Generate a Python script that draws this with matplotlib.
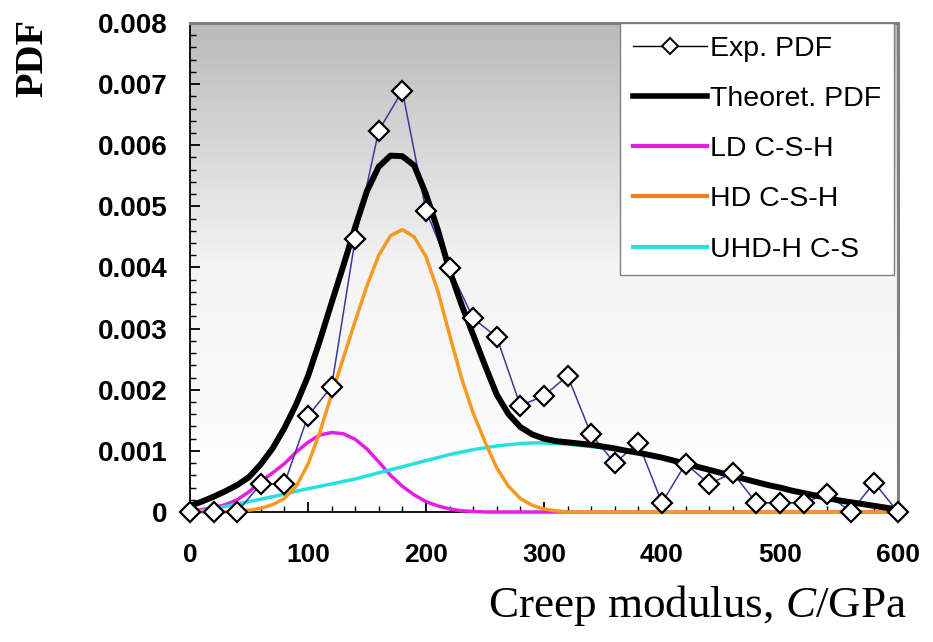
import numpy as np
import matplotlib
matplotlib.use("Agg")
import matplotlib.pyplot as plt
from matplotlib.lines import Line2D
from matplotlib.colors import LinearSegmentedColormap

plt.rcParams["mathtext.fontset"] = "custom"
plt.rcParams["mathtext.rm"] = "Liberation Serif"
plt.rcParams["mathtext.it"] = "Liberation Serif:italic"

# experimental PDF, one point every 20 GPa
exp_modulus = np.arange(0, 601, 20)
exp_pdf = [0.0, 0.0, 0.0, 0.00046, 0.00046, 0.00157, 0.00205, 0.00446, 0.00624, 0.00689,
           0.00493, 0.00399, 0.00317, 0.00286, 0.00174, 0.00190, 0.00223, 0.00127, 0.00080,
           0.00113, 0.00015, 0.00079, 0.00046, 0.00064, 0.00015, 0.00015, 0.00015, 0.00030,
           0.0, 0.00048, 0.0]

# fitted curves, one value every 10 GPa
fit_modulus = np.arange(0, 601, 10)
theoret_pdf = [0.00010, 0.00017, 0.00025, 0.00034, 0.00044, 0.00057, 0.00078, 0.00104, 0.00137, 0.00176,
               0.00222, 0.00280, 0.00342, 0.00403, 0.00466, 0.00525, 0.00565, 0.00583, 0.00582, 0.00567,
               0.00520, 0.00462, 0.00395, 0.00340, 0.00290, 0.00240, 0.00192, 0.00160, 0.00139, 0.00127,
               0.00120, 0.00116, 0.00114, 0.00112, 0.00110, 0.00107, 0.00104, 0.00100, 0.00097, 0.00093,
               0.00089, 0.00084, 0.00079, 0.00074, 0.00069, 0.00064, 0.00059, 0.00054, 0.00049, 0.00044,
               0.00040, 0.00035, 0.00031, 0.00027, 0.00023, 0.00019, 0.00016, 0.00013, 0.00010, 0.00007,
               0.00004]
ld_csh = [0.00002, 0.00004, 0.00007, 0.00012, 0.00020, 0.00033, 0.00050, 0.00064, 0.00079, 0.00098,
          0.00114, 0.00126, 0.00130, 0.00128, 0.00119, 0.00103, 0.00082, 0.00060, 0.00042, 0.00028,
          0.00017, 0.00010, 0.00005, 0.00002, 0.00001, 0.0, 0.0, 0.0, 0.0, 0.0,
          0.0, 0.0, 0.0, 0.0, 0.0, 0.0, 0.0, 0.0, 0.0, 0.0,
          0.0, 0.0, 0.0, 0.0, 0.0, 0.0, 0.0, 0.0, 0.0, 0.0,
          0.0, 0.0, 0.0, 0.0, 0.0, 0.0, 0.0, 0.0, 0.0, 0.0,
          0.0]
hd_csh = [0.0, 0.0, 0.0, 0.0, 0.00001, 0.00003, 0.00006, 0.00012, 0.00022, 0.00042,
          0.00078, 0.00130, 0.00192, 0.00252, 0.00312, 0.00370, 0.00420, 0.00452, 0.00462, 0.00450,
          0.00418, 0.00362, 0.00290, 0.00220, 0.00162, 0.00115, 0.00072, 0.00042, 0.00022, 0.00011,
          0.00005, 0.00002, 0.0, 0.0, 0.0, 0.0, 0.0, 0.0, 0.0, 0.0,
          0.0, 0.0, 0.0, 0.0, 0.0, 0.0, 0.0, 0.0, 0.0, 0.0,
          0.0, 0.0, 0.0, 0.0, 0.0, 0.0, 0.0, 0.0, 0.0, 0.0,
          0.0]
uhd_cs = [0.0, 0.00002, 0.00005, 0.00009, 0.00013, 0.00017, 0.00021, 0.00025, 0.00029, 0.00034,
          0.00038, 0.00042, 0.00046, 0.00050, 0.00054, 0.00059, 0.00064, 0.00069, 0.00074, 0.00079,
          0.00084, 0.00089, 0.00094, 0.00098, 0.00102, 0.00105, 0.00108, 0.00110, 0.00112, 0.00113,
          0.00113, 0.00112, 0.00111, 0.00109, 0.00107, 0.00105, 0.00102, 0.00099, 0.00096, 0.00092,
          0.00088, 0.00084, 0.00079, 0.00074, 0.00069, 0.00064, 0.00059, 0.00054, 0.00049, 0.00044,
          0.00040, 0.00035, 0.00031, 0.00027, 0.00023, 0.00019, 0.00016, 0.00013, 0.00010, 0.00007,
          0.00004]

fig = plt.figure(figsize=(9.33, 6.42), dpi=100)
ax = fig.add_axes([0.2036, 0.2025, 0.7588, 0.7617])

# grey-to-white background inside the plot area
bg = LinearSegmentedColormap.from_list("bg", ["#ffffff", "#f4f4f4", "#bababa"])
ax.imshow(np.linspace(0, 1, 256)[:, None], extent=[0, 600, 0, 0.008], origin="lower",
          aspect="auto", cmap=bg, zorder=0)

ax.plot(fit_modulus, ld_csh, color="#e51de5", lw=2.5, zorder=3, clip_on=False)
ax.plot(fit_modulus, uhd_cs, color="#25e0e0", lw=2.5, zorder=3, clip_on=False)
ax.plot(fit_modulus, hd_csh, color="#f49a22", lw=2.5, zorder=3.1, clip_on=False)
ax.plot(exp_modulus, exp_pdf, color="#3a3a9a", lw=1.1, zorder=3.5, clip_on=False)
ax.plot(fit_modulus, theoret_pdf, color="black", lw=4.3, zorder=4, clip_on=False,
        solid_capstyle="butt")
ax.plot(exp_modulus, exp_pdf, ls="none", marker="D", ms=10.5, mfc="white", mec="black",
        mew=1.6, zorder=5, clip_on=False)

ax.set_xlim(0, 600)
ax.set_ylim(0, 0.008)
ax.set_xticks(np.arange(0, 601, 100))
ax.set_xticks(np.arange(0, 601, 20), minor=True)
ax.set_yticks(np.arange(0, 0.0081, 0.001))
ax.set_yticks(np.arange(0, 0.0081, 0.0002), minor=True)
ax.set_yticklabels(["0"] + ["%.3f" % v for v in np.arange(0.001, 0.0081, 0.001)])
ax.tick_params(which="both", direction="in", top=False, right=False)
ax.tick_params(which="major", length=7, width=1.3)
ax.tick_params(which="minor", length=4, width=1.0)
ax.tick_params(axis="x", pad=22, labelsize=19)
ax.tick_params(axis="y", pad=16, labelsize=20)
for lab in ax.get_xticklabels() + ax.get_yticklabels():
    lab.set_family("Liberation Sans")
    lab.set_weight("bold")

for side in ["left", "bottom"]:
    ax.spines[side].set_color("black")
    ax.spines[side].set_linewidth(1.3)
for side in ["top", "right"]:
    ax.spines[side].set_color("#808080")
    ax.spines[side].set_linewidth(2.2)

handles = [
    Line2D([], [], color="black", lw=1.0, marker="D", ms=8.5, mfc="white", mec="black", mew=1.4),
    Line2D([], [], color="black", lw=4.0),
    Line2D([], [], color="#e51de5", lw=3.0),
    Line2D([], [], color="#f07f20", lw=3.0),
    Line2D([], [], color="#25e0e0", lw=3.0),
]
labels = ["Exp. PDF", "Theoret. PDF", "LD C-S-H", "HD C-S-H", "UHD-H C-S"]
leg = ax.legend(handles, labels, loc="upper right", bbox_to_anchor=(0.995, 1.0),
                borderaxespad=0, fancybox=False, framealpha=1, edgecolor="#808080",
                prop={"family": "Liberation Sans", "size": 20.5}, handlelength=2.6,
                handletextpad=0.12, labelspacing=0.85, borderpad=0.45)
leg.get_frame().set_linewidth(1.0)
leg.set_zorder(6)

fig.text(0.035, 0.91, "PDF", rotation=90, family="Liberation Serif", weight="bold",
         fontsize=29, ha="center", va="center")
fig.text(0.972, 0.057, "Creep modulus, $\\mathit{C}$/GPa", family="Liberation Serif",
         fontsize=32.5, ha="right", va="center")

fig.savefig("out.png", dpi=100)
